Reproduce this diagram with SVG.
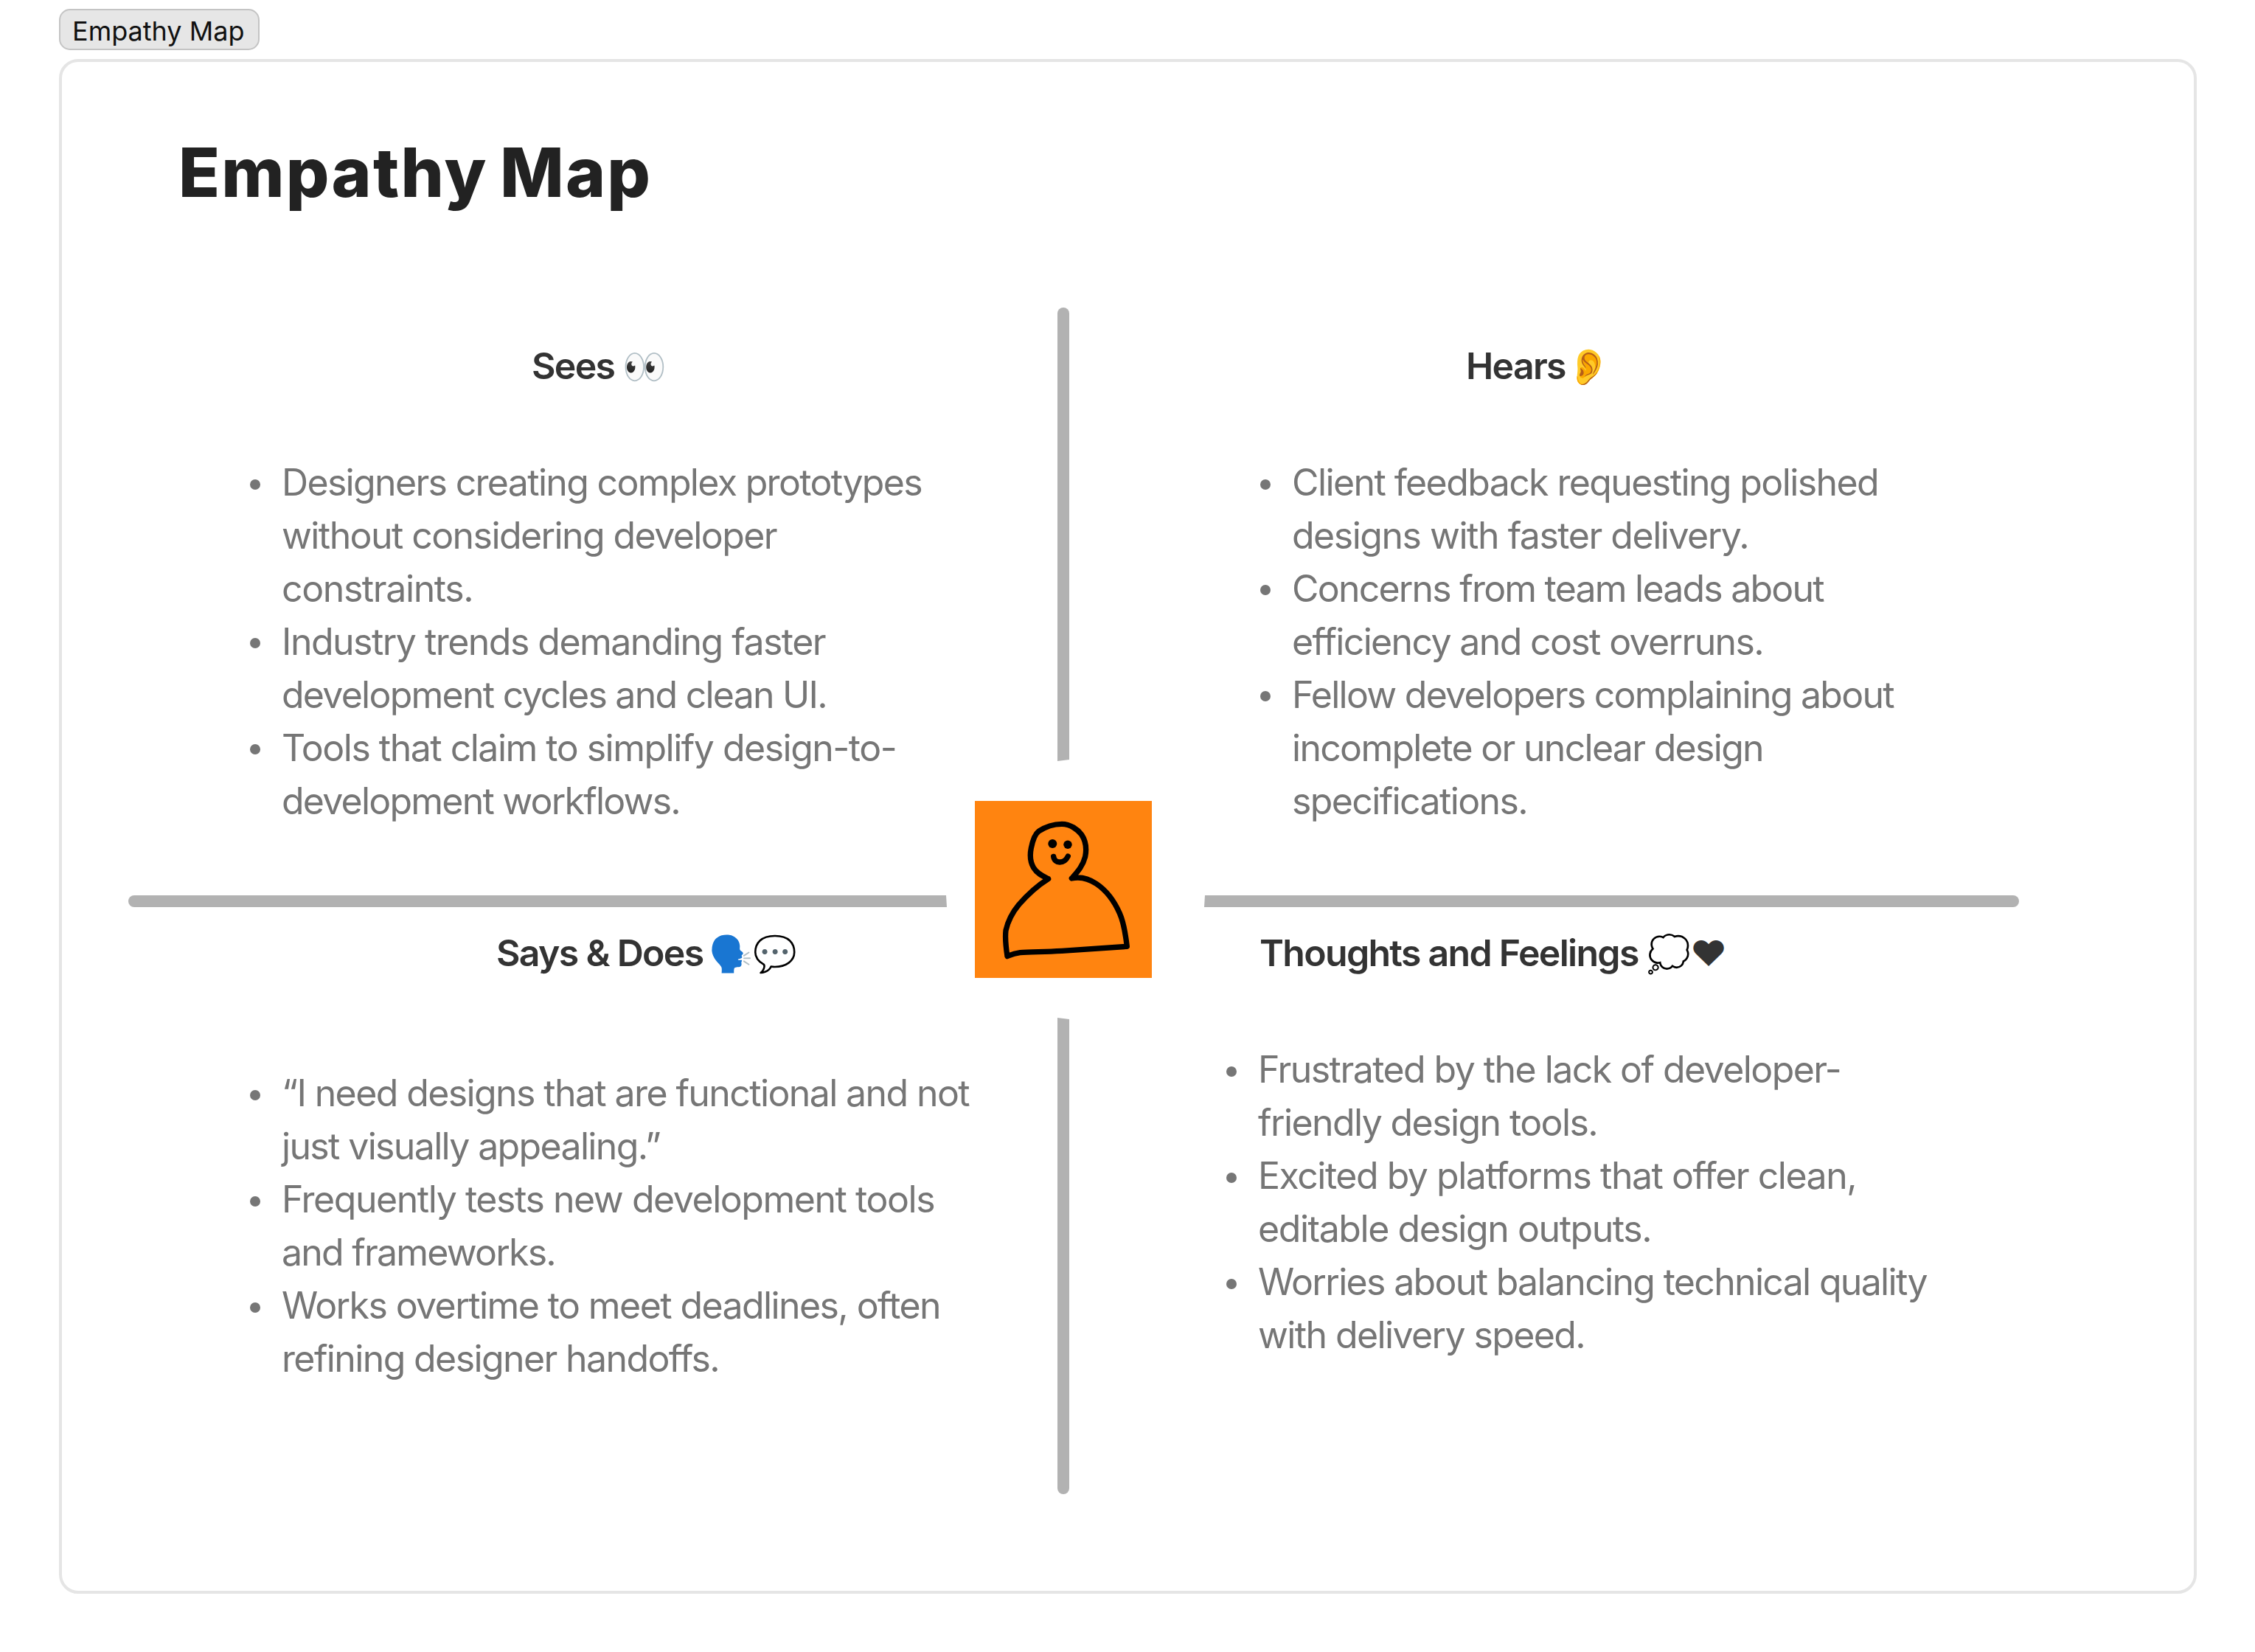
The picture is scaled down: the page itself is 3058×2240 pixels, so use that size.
<svg xmlns="http://www.w3.org/2000/svg" width="3058" height="2240" viewBox="0 0 3058 2240">
<style>
text{font-family:Inter,"Liberation Sans",sans-serif;font-variation-settings:"opsz" 32}
.b{font-size:50px;fill:#767676;letter-spacing:-1.65px}
.h{font-size:50px;font-weight:600;fill:#333;letter-spacing:-1.7px}
.e{font-size:48px;letter-spacing:0}
.d{fill:#767676}
.l{fill:#b2b2b2}
</style>
<rect width="3058" height="2240" fill="#fff"/>
<g id="tab"><rect x="81" y="13" width="270" height="54" rx="14" fill="#e6e6e6" stroke="#c4c4c4" stroke-width="2"/><text x="98" y="55" font-size="36" fill="#111">Empathy Map</text></g>
<rect id="card" x="82" y="82" width="2895" height="2077" rx="24" fill="#fff" stroke="#e5e5e5" stroke-width="4"/>
<text id="title" x="242" y="267" font-size="92" font-weight="800" fill="#222" letter-spacing="2.2" word-spacing="-6">Empathy Map</text>
<g id="connectors">
<path class="l" d="M1434 425a8 8 0 0 1 16 0V1030L1434 1032Z"/>
<path class="l" d="M1434 1380L1450 1382V2018a8 8 0 0 1-16 0Z"/>
<path class="l" d="M182 1214H1283L1284 1230H182a8 8 0 0 1 0-16Z"/>
<path class="l" d="M1633 1230L1634 1214H2730a8 8 0 0 1 0 16Z"/>
</g>
<g id="center"><rect x="1322" y="1086" width="240" height="240" fill="#ff8410"/>
<g transform="translate(1260 1020) scale(.3333)" fill="none" stroke="#000" stroke-width="22" stroke-linecap="round" stroke-linejoin="round">
<path d="M485 515C465 505 440 495 425 470C410 445 410 415 415 390C420 365 428 335 445 322C470 305 505 292 540 292C575 292 605 315 620 335C640 365 640 400 635 425C625 465 600 490 580 513C615 505 650 515 680 535C725 565 755 610 775 655C795 700 800 750 805 790C700 797 620 803 540 808C460 812 410 812 370 815C345 818 330 825 318 830C312 790 308 760 312 725C320 690 340 650 365 620C400 580 445 540 485 515Z"/>
<path d="M506 424C510 455 550 455 565 423"/></g>
<circle cx="1427.300" cy="1144" r="6"/><circle cx="1448" cy="1145.300" r="5.700"/>
</g>
<g id="sees"><text class="h" x="721" y="514">Sees <tspan class="e">👀</tspan></text>
<circle class="d" cx="346" cy="657" r="7"/><circle class="d" cx="346" cy="872" r="7"/><circle class="d" cx="346" cy="1016" r="7"/>
<text class="b" x="382" y="672" textLength="868">Designers creating complex prototypes</text>
<text class="b" x="382" y="744" textLength="671">without considering developer</text>
<text class="b" x="382" y="816" textLength="259">constraints.</text>
<text class="b" x="382" y="888" textLength="737">Industry trends demanding faster</text>
<text class="b" x="382" y="960" textLength="739">development cycles and clean UI.</text>
<text class="b" x="382" y="1032" textLength="833">Tools that claim to simplify design-to-</text>
<text class="b" x="382" y="1104" textLength="540">development workflows.</text>
</g>
<g id="hears"><text class="h" x="1988" y="514" word-spacing="-10">Hears <tspan class="e">👂</tspan></text>
<circle class="d" cx="1716" cy="657" r="7"/><circle class="d" cx="1716" cy="800" r="7"/><circle class="d" cx="1716" cy="944" r="7"/>
<text class="b" x="1752" y="672" textLength="795">Client feedback requesting polished</text>
<text class="b" x="1752" y="744" textLength="619">designs with faster delivery.</text>
<text class="b" x="1752" y="816" textLength="721">Concerns from team leads about</text>
<text class="b" x="1752" y="888" textLength="639">efficiency and cost overruns.</text>
<text class="b" x="1752" y="960" textLength="816">Fellow developers complaining about</text>
<text class="b" x="1752" y="1032" textLength="639">incomplete or unclear design</text>
<text class="b" x="1752" y="1104" textLength="319">specifications.</text>
</g>
<g id="says"><text class="h" x="673" y="1310">Says &amp; Does <tspan class="e" dx="-3">🗣️💬</tspan></text>
<circle class="d" cx="346" cy="1485" r="7"/><circle class="d" cx="346" cy="1629" r="7"/><circle class="d" cx="346" cy="1773" r="7"/>
<text class="b" x="382" y="1500" textLength="932">“I need designs that are functional and not</text>
<text class="b" x="382" y="1572" textLength="513">just visually appealing.”</text>
<text class="b" x="382" y="1644" textLength="885">Frequently tests new development tools</text>
<text class="b" x="382" y="1716" textLength="371">and frameworks.</text>
<text class="b" x="382" y="1788" textLength="893">Works overtime to meet deadlines, often</text>
<text class="b" x="382" y="1860" textLength="593">refining designer handoffs.</text>
</g>
<g id="thoughts"><text class="h" x="1708" y="1310">Thoughts and Feelings <tspan class="e">💭♥</tspan></text>
<circle class="d" cx="1670" cy="1453" r="7"/><circle class="d" cx="1670" cy="1597" r="7"/><circle class="d" cx="1670" cy="1741" r="7"/>
<text class="b" x="1706" y="1468" textLength="790">Frustrated by the lack of developer-</text>
<text class="b" x="1706" y="1540" textLength="460">friendly design tools.</text>
<text class="b" x="1706" y="1612" textLength="811">Excited by platforms that offer clean,</text>
<text class="b" x="1706" y="1684" textLength="533">editable design outputs.</text>
<text class="b" x="1706" y="1756" textLength="907">Worries about balancing technical quality</text>
<text class="b" x="1706" y="1828" textLength="443">with delivery speed.</text>
</g>
</svg>
